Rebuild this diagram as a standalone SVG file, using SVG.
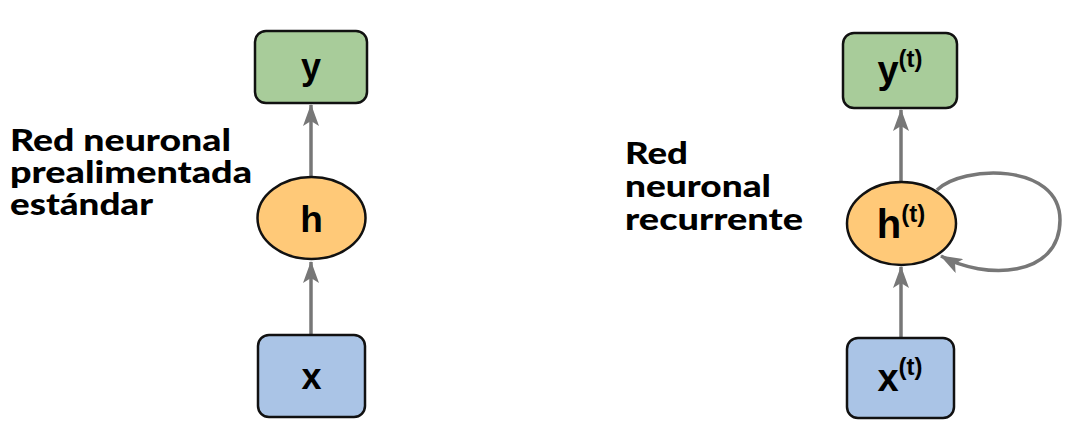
<svg xmlns="http://www.w3.org/2000/svg" width="1074" height="445" viewBox="0 0 1074 445">
<defs>
<style>
.lbl{font-family:"Lato","Liberation Sans",sans-serif;font-weight:900;font-size:30px;fill:#000}
.nt{font-family:"Liberation Sans",Arial,sans-serif;font-weight:bold;fill:#000;text-anchor:middle}
.sup{font-size:24px}
.box{stroke:#111;stroke-width:2.5}
.edge{fill:none;stroke:#777;stroke-width:3.5}
</style>
<marker id="ah" viewBox="0 0 22 16" refX="21" refY="8" markerWidth="22" markerHeight="16" markerUnits="userSpaceOnUse" orient="auto">
<path d="M0,0 L22,8 L0,16 L5,8 Z" fill="#777"/>
</marker>
</defs>
<rect width="1074" height="445" fill="#fff"/>
<g id="label-left">
<text class="lbl" x="10" y="151" textLength="221" lengthAdjust="spacingAndGlyphs">Red neuronal</text>
<text class="lbl" x="10" y="183" textLength="242" lengthAdjust="spacingAndGlyphs">prealimentada</text>
<text class="lbl" x="10" y="215" textLength="143" lengthAdjust="spacingAndGlyphs">estándar</text>
</g>
<g id="label-right">
<text class="lbl" x="625" y="164" textLength="63" lengthAdjust="spacingAndGlyphs">Red</text>
<text class="lbl" x="625" y="197" textLength="146" lengthAdjust="spacingAndGlyphs">neuronal</text>
<text class="lbl" x="625" y="230" textLength="178" lengthAdjust="spacingAndGlyphs">recurrente</text>
</g>
<g id="connectors">
<line class="edge" x1="311" y1="335" x2="311" y2="262" marker-end="url(#ah)"/>
<line class="edge" x1="311" y1="177" x2="311" y2="105" marker-end="url(#ah)"/>
<line class="edge" x1="901" y1="338" x2="901" y2="267" marker-end="url(#ah)"/>
<line class="edge" x1="901" y1="182" x2="901" y2="110" marker-end="url(#ah)"/>
<path class="edge" d="M937,190 C962,165 1060,162 1060,220 C1060,278 985,280 941,256" marker-end="url(#ah)"/>
</g>
<g id="node-y">
<rect class="box" x="255" y="31" width="112" height="72" rx="11" fill="#a8cc9a"/>
<text class="nt" x="311" y="79" font-size="36">y</text>
</g>
<g id="node-h">
<ellipse class="box" cx="311.5" cy="218" rx="54" ry="41" fill="#ffc978"/>
<text class="nt" x="311.5" y="232" font-size="37">h</text>
</g>
<g id="node-x">
<rect class="box" x="258" y="335" width="107" height="82" rx="11" fill="#aac4e6"/>
<text class="nt" x="311.5" y="389" font-size="36">x</text>
</g>
<g id="node-yt">
<rect class="box" x="843" y="33" width="114" height="75" rx="11" fill="#a8cc9a"/>
<text class="nt" x="900" y="83" font-size="38">y<tspan class="sup" dy="-16">(t)</tspan></text>
</g>
<g id="node-ht">
<ellipse class="box" cx="901.5" cy="223.5" rx="54.5" ry="41.5" fill="#ffc978"/>
<text class="nt" x="901" y="238" font-size="40">h<tspan class="sup" dy="-16">(t)</tspan></text>
</g>
<g id="node-xt">
<rect class="box" x="847" y="338" width="107" height="80" rx="11" fill="#aac4e6"/>
<text class="nt" x="900" y="391" font-size="38">x<tspan class="sup" dy="-16">(t)</tspan></text>
</g>
</svg>
